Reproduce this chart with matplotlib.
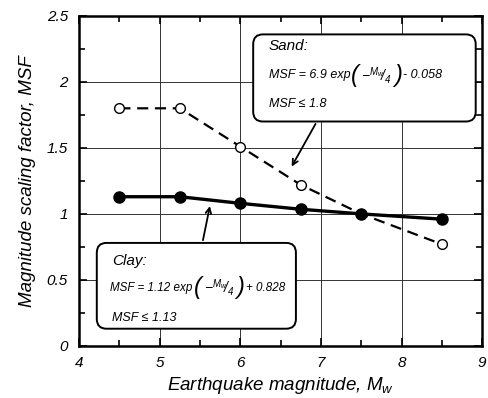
import matplotlib
matplotlib.use('Agg')
import matplotlib.pyplot as plt
from matplotlib.patches import FancyBboxPatch
from matplotlib.ticker import MultipleLocator, FormatStrFormatter

plt.rcParams['font.family'] = ['Liberation Sans', 'DejaVu Sans']
plt.rcParams['font.style'] = 'italic'
plt.rcParams['mathtext.fontset'] = 'custom'
plt.rcParams['mathtext.rm'] = 'Liberation Sans:italic'
plt.rcParams['mathtext.it'] = 'Liberation Sans:italic'

# data
magnitude = [4.5, 5.25, 6.0, 6.75, 7.5, 8.5]
msf_sand = [1.8, 1.8, 1.51, 1.22, 1.0, 0.77]
msf_clay = [1.13, 1.13, 1.08, 1.035, 1.0, 0.96]

fig = plt.figure(figsize=(4.88, 3.98), dpi=100)
ax = fig.add_axes([0.162, 0.131, 0.826, 0.829])

ax.set_xlim(4, 9)
ax.set_ylim(0, 2.5)
ax.xaxis.set_major_locator(MultipleLocator(1))
ax.xaxis.set_minor_locator(MultipleLocator(0.5))
ax.yaxis.set_major_locator(MultipleLocator(0.5))
ax.yaxis.set_minor_locator(MultipleLocator(0.25))
ax.yaxis.set_major_formatter(FormatStrFormatter('%g'))
ax.tick_params(which='both', direction='in', top=True, right=True, labelsize=11, width=1.2)
ax.tick_params(which='major', length=6)
ax.tick_params(which='minor', length=4)
ax.tick_params(axis='y', which='major', pad=8)
ax.tick_params(axis='x', which='major', pad=7)
for s in ax.spines.values():
    s.set_linewidth(1.8)

for gx in [5, 6, 7, 8]:
    ax.axvline(gx, color='#333333', lw=0.7, zorder=0)
for gy in [0.5, 1.0, 1.5, 2.0]:
    ax.axhline(gy, color='#333333', lw=0.7, zorder=0)

ax.plot(magnitude, msf_sand, color='black', lw=1.6, dashes=(5, 3),
        marker='o', ms=7, mfc='white', mec='black', mew=1.0, zorder=3)
ax.plot(magnitude, msf_clay, color='black', lw=2.4,
        marker='o', ms=8, mfc='black', mec='black', zorder=3)

ax.set_xlabel('Earthquake magnitude, $M_w$', fontsize=13.5, labelpad=4)
ax.set_ylabel('Magnitude scaling factor, MSF', fontsize=13.5, labelpad=8)


def formula(x, y, head, tail, fs=8.6):
    # head text, big parentheses round -Mw/4, then the constant
    t = ax.text(x, y, head, fontsize=fs, va='center', zorder=5)
    pieces = [('(', 17, 0.5), (r'$-{}^{M_w}\!/_{4}$', 10, 1.5),
              (')', 17, 1.5), (tail, fs, 1)]
    for s, size, gap in pieces:
        t = ax.annotate(s, xy=(1, 0.5), xycoords=t, xytext=(gap, 0),
                        textcoords='offset points', fontsize=size,
                        va='center', ha='left', zorder=5)


# annotation boxes
sand_box = FancyBboxPatch((6.16, 1.7), 2.76, 0.66,
                          boxstyle='round,pad=0,rounding_size=0.12',
                          mutation_aspect=0.62, fc='white', ec='black', lw=1.4, zorder=4)
ax.add_patch(sand_box)
ax.text(6.35, 2.27, 'Sand:', fontsize=11, va='center', zorder=5)
formula(6.35, 2.05, 'MSF = 6.9 exp', '- 0.058', fs=9)
ax.text(6.35, 1.83, 'MSF ≤ 1.8', fontsize=9, va='center', zorder=5)

clay_box = FancyBboxPatch((4.22, 0.13), 2.47, 0.65,
                          boxstyle='round,pad=0,rounding_size=0.12',
                          mutation_aspect=0.62, fc='white', ec='black', lw=1.4, zorder=4)
ax.add_patch(clay_box)
ax.text(4.41, 0.64, 'Clay:', fontsize=11, va='center', zorder=5)
formula(4.39, 0.44, 'MSF = 1.12 exp', '+ 0.828', fs=8.4)
ax.text(4.41, 0.21, 'MSF ≤ 1.13', fontsize=9, va='center', zorder=5)

ax.annotate('', xy=(6.62, 1.34), xytext=(6.95, 1.70),
            arrowprops=dict(arrowstyle='->', lw=1.3, color='black'), zorder=5)
ax.annotate('', xy=(5.63, 1.08), xytext=(5.53, 0.78),
            arrowprops=dict(arrowstyle='->', lw=1.3, color='black'), zorder=5)

fig.savefig('out.png', dpi=100)
